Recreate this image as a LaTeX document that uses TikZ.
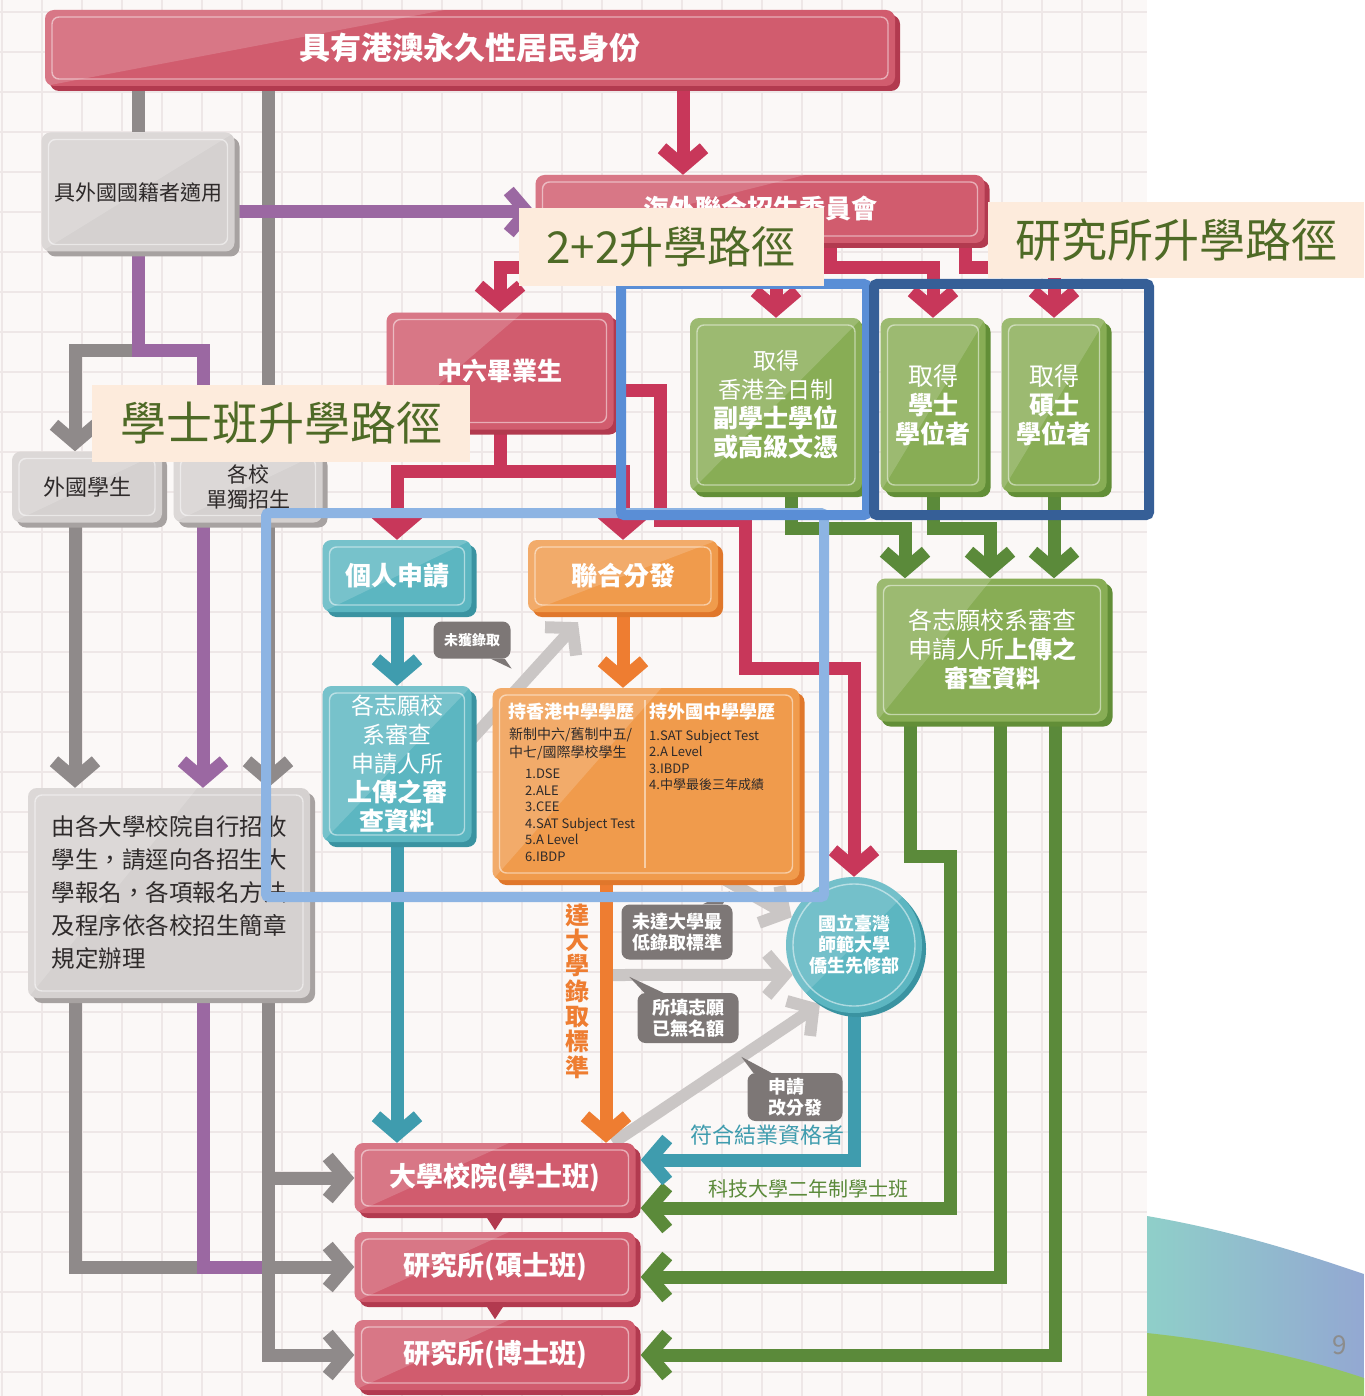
\documentclass[tikz,border=0pt]{standalone}
\usepackage{fontspec}
\setmainfont{Noto Sans CJK TC}
\usepackage{tikz}
\usetikzlibrary{calc}
\usetikzlibrary{arrows.meta}
\usetikzlibrary{shadows}
\definecolor{paper}{HTML}{FBF8F7}
\definecolor{gridc}{HTML}{EEE7E7}
\definecolor{redfill}{HTML}{D15C6E}
\definecolor{redshade}{HTML}{B23A4F}
\definecolor{grayfill}{HTML}{D5D1D0}
\definecolor{grayshade}{HTML}{A7A2A1}
\definecolor{greenfill}{HTML}{88AD55}
\definecolor{greenshade}{HTML}{628E37}
\definecolor{tealfill}{HTML}{5CB6C1}
\definecolor{tealshade}{HTML}{3A93A1}
\definecolor{orangefill}{HTML}{F09B4C}
\definecolor{orangeshade}{HTML}{E0772B}
\definecolor{textdark}{HTML}{2E2A2A}
\definecolor{callgray}{HTML}{7D7776}
\definecolor{liner}{HTML}{C8375A}
\definecolor{lineg}{HTML}{8F8A8A}
\definecolor{linep}{HTML}{9B68A2}
\definecolor{linegn}{HTML}{5B8A3A}
\definecolor{linet}{HTML}{3F9CAE}
\definecolor{lineo}{HTML}{EE7D31}
\definecolor{linelg}{HTML}{CAC6C5}
\definecolor{cream}{HTML}{FDEBDC}
\definecolor{tagtext}{HTML}{4E6A26}
\definecolor{frame22}{HTML}{5A8ED6}
\definecolor{framegrad}{HTML}{365F97}
\definecolor{framebach}{HTML}{8DB4E3}
\definecolor{swA}{HTML}{8FCFC9}
\definecolor{swB}{HTML}{93A8D2}
\definecolor{swC}{HTML}{92C465}
\pgfdeclarelayer{grid}
\pgfdeclarelayer{lines}
\pgfdeclarelayer{top}
\pgfsetlayers{grid,lines,main,top}
\newcommand{\fsz}[2]{\fontsize{#1}{#2}\selectfont}
\tikzset{
  glossbox/.style n args={4}{rectangle, rounded corners=9pt, inner sep=2pt,
    fill=#1, text=#3,
    drop shadow={shadow xshift=5pt, shadow yshift=-5pt, fill=#2, opacity=1},
    path picture={
      \fill[white, opacity=.17, sharp corners] (path picture bounding box.north west)
        -- ($(path picture bounding box.north west)!#4!(path picture bounding box.north east)$)
        -- (path picture bounding box.south west) -- cycle;
      \draw[white, opacity=.5, line width=1.4pt, rounded corners=7pt]
        ([shift={(7pt,-7pt)}]path picture bounding box.north west) rectangle
        ([shift={(-7pt,7pt)}]path picture bounding box.south east);
    }},
  redbox/.style={glossbox={redfill}{redshade}{white}{#1}}, redbox/.default=1,
  graybox/.style={glossbox={grayfill}{grayshade}{textdark}{#1}}, graybox/.default=1,
  greenbox/.style={glossbox={greenfill}{greenshade}{white}{#1}}, greenbox/.default=1,
  tealbox/.style={glossbox={tealfill}{tealshade}{white}{#1}}, tealbox/.default=1,
  orangebox/.style={glossbox={orangefill}{orangeshade}{white}{#1}}, orangebox/.default=1,
  callout/.style={fill=callgray, rounded corners=8pt, text=white, inner sep=2pt,
    align=left, font=\fsz{18}{21}\bfseries},
  tag/.style={fill=cream, text=tagtext, inner sep=0pt, font=\fsz{46}{50}},
  hiframe/.style={line width=10pt, rounded corners=3pt},
  conn/.style={line width=13pt, line join=miter},
  gline/.style={conn, draw=lineg},
  pline/.style={conn, draw=linep},
  rline/.style={conn, draw=liner},
  gnline/.style={conn, draw=linegn},
  tline/.style={conn, draw=linet},
  oline/.style={conn, draw=lineo},
  lgline/.style={conn, line width=12pt, draw=linelg},
  arr/.style={-{Straight Barb[length=18pt,width=42pt]}},
}
\begin{document}
\begin{tikzpicture}[x=1pt,y=-1pt]
\useasboundingbox (0,0) rectangle (1364,1396);
% paper, grid and the corner swoosh
\begin{pgfonlayer}{grid}
  \fill[white] (0,0) rectangle (1364,1396);
  \fill[paper] (0,0) rectangle (1147,1396);
  \foreach \gx in {2,42,...,1147} \draw[gridc, line width=1.2pt] (\gx,0) -- (\gx,1396);
  \foreach \gy in {12,52,...,1396} \draw[gridc, line width=1.2pt] (0,\gy) -- (1147,\gy);
  \shade[left color=swA, right color=swB] (1147,1216) .. controls (1240,1232) and (1310,1256) .. (1364,1274)
    -- (1364,1396) -- (1147,1396) -- cycle;
  \fill[swC] (1147,1333) .. controls (1240,1343) and (1310,1360) .. (1364,1378)
    -- (1364,1396) -- (1147,1396) -- cycle;
  \node[text=black!45, font=\fsz{26}{30}] (pagenum) at (1340,1345) {9};
\end{pgfonlayer}

% boxes
\node[redbox=0.47, minimum width=850pt, minimum height=76pt, font=\fsz{31}{36}\bfseries] (title) at (470,48) {具有港澳永久性居民身份};
\node[graybox, minimum width=193pt, minimum height=119pt, font=\fsz{21}{25}] (foreign) at (138,192) {具外國國籍者適用};
\node[redbox=0.6, minimum width=449pt, minimum height=68pt, font=\fsz{26}{30}\bfseries] (committee) at (760,209) {海外聯合招生委員會};
\node[redbox=0.6, minimum width=227pt, minimum height=117pt, font=\fsz{25}{30}\bfseries] (hs6) at (500,371) {中六畢業生};
\node[greenbox, minimum width=172pt, minimum height=174pt, align=center, font=\fsz{23}{29}] (assoc) at (776,405)
  {取得\\香港全日制\\{\bfseries\fsz{25}{29}副學士學位}\\{\bfseries\fsz{25}{29}或高級文憑}};
\node[greenbox, minimum width=105pt, minimum height=174pt, align=center, font=\fsz{25}{29}] (bach) at (933,405)
  {取得\\{\bfseries 學士}\\{\bfseries 學位者}};
\node[greenbox, minimum width=105pt, minimum height=174pt, align=center, font=\fsz{25}{29}] (mast) at (1054,405)
  {取得\\{\bfseries 碩士}\\{\bfseries 學位者}};
\node[graybox, minimum width=150pt, minimum height=71pt, font=\fsz{22}{26}] (intl) at (87,487) {外國學生};
\node[graybox, minimum width=149pt, minimum height=71pt, align=center, font=\fsz{21}{25}] (indep) at (248,487) {各校\\單獨招生};
\node[tealbox, minimum width=149pt, minimum height=72pt, font=\fsz{26}{30}\bfseries] (personal) at (397,576) {個人申請};
\node[orangebox, minimum width=190pt, minimum height=72pt, font=\fsz{26}{30}\bfseries] (joint) at (623,576) {聯合分發};
\node[tealbox, minimum width=149pt, minimum height=156pt, align=center, font=\fsz{23}{29}] (review) at (397,764)
  {各志願校\\系審查\\申請人所\\{\bfseries\fsz{25}{29}上傳之審}\\{\bfseries\fsz{25}{29}查資料}};
\node[orangebox=0.55, minimum width=307pt, minimum height=192pt] (place) at (646,784) {};
\draw[white, opacity=.5, line width=1.4pt] (645,700) -- (645,868);
\node[anchor=west, text=white, inner sep=0pt, font=\fsz{18}{20}\bfseries] (hkhead) at (508,712) {持香港中學學歷};
\node[anchor=west, text=white, inner sep=0pt, font=\fsz{18}{20}\bfseries] (fhead) at (649,712) {持外國中學學歷};
\node[anchor=north west, align=left, text=textdark, inner sep=0pt, font=\fsz{14}{18}] (hksub) at (509,727)
  {新制中六/舊制中五/\\中七/國際學校學生};
\node[anchor=north west, align=left, text=textdark, inner sep=0pt, font=\fsz{13}{16.5}] (hkitems) at (525,769)
  {1.DSE\\2.ALE\\3.CEE\\4.SAT Subject Test\\5.A Level\\6.IBDP};
\node[anchor=north west, align=left, text=textdark, inner sep=0pt, font=\fsz{13}{16.3}] (fitems) at (649,730)
  {1.SAT Subject Test\\2.A Level\\3.IBDP\\4.中學最後三年成績};
\node[greenbox=0.5, minimum width=231pt, minimum height=143pt, align=center, font=\fsz{24}{29}] (gradrev) at (992,650)
  {各志願校系審查\\申請人所{\bfseries 上傳之}\\{\bfseries 審查資料}};
\node[graybox=0.6, minimum width=282pt, minimum height=210pt, align=left, font=\fsz{23.5}{33}] (selfadm) at (169,893)
  {由各大學校院自行招收\\學生，請逕向各招生大\\學報名，各項報名方法\\及程序依各校招生簡章\\規定辦理};
\node[circle, minimum size=136pt, inner sep=0pt, fill=tealfill, text=white, align=center, font=\fsz{18}{21}\bfseries,
  drop shadow={shadow xshift=4pt, shadow yshift=-4pt, fill=tealshade, opacity=1},
  path picture={
    \fill[white, opacity=.15] (path picture bounding box.north west) -- (path picture bounding box.north east)
      -- (path picture bounding box.south west) -- cycle;
    \draw[white, opacity=.5, line width=1.4pt] (path picture bounding box.center) circle (61pt);
  }] (prep) at (854,945) {國立臺灣\\師範大學\\僑生先修部};
\node[redbox=0.55, minimum width=281pt, minimum height=70pt, font=\fsz{27}{30}\bfseries] (ug) at (495,1178) {大學校院(學士班)};
\node[redbox=0.55, minimum width=281pt, minimum height=70pt, font=\fsz{27}{30}\bfseries] (msc) at (495,1267) {研究所(碩士班)};
\node[redbox=0.55, minimum width=281pt, minimum height=70pt, font=\fsz{27}{30}\bfseries] (phd) at (495,1355) {研究所(博士班)};
\foreach \n in {ug,msc}
  \fill[redshade] ([xshift=-11pt]\n.south) -- ([xshift=11pt]\n.south) -- ([yshift=-17pt]\n.south) -- cycle;

% callouts
\node[callout, minimum width=77pt, minimum height=37pt, font=\fsz{14}{16}\bfseries] (miss) at (472,640) {未獲錄取};
\fill[callgray] ([xshift=-20pt]miss.south east) -- ([xshift=-6pt]miss.south east) -- ([shift={(1pt,-10pt)}]miss.south east) -- cycle;
\node[callout, minimum width=111pt, minimum height=55pt] (low) at (677,932) {未達大學最\\低錄取標準};
\fill[callgray] ([xshift=-30pt]low.north east) -- ([xshift=-10pt]low.north east) -- ([shift={(-3pt,13pt)}]low.north east) -- cycle;
\node[callout, minimum width=101pt, minimum height=50pt] (full) at (688,1018) {所填志願\\已無名額};
\fill[callgray] ([xshift=7pt]full.north west) -- ([xshift=26pt]full.north west) -- ([shift={(-8pt,16pt)}]full.north west) -- cycle;
\node[callout, minimum width=95pt, minimum height=48pt] (redist) at (795,1097) {申請\\改分發};
\fill[callgray] ([xshift=6pt]redist.north west) -- ([xshift=24pt]redist.north west) -- ([shift={(-6pt,16pt)}]redist.north west) -- cycle;

% free labels
\node[text=linet, font=\fsz{22}{26}] (eligible) at (767,1135) {符合結業資格者};
\node[text=linegn, font=\fsz{20}{24}] (techu) at (808,1189) {科技大學二年制學士班};
\node[text=lineo, align=center, font=\fsz{24}{25.3}\bfseries] (reach) at (577,991) {達\\大\\學\\錄\\取\\標\\準};

% named points on the connectors
\coordinate (fsplit) at (138,350);
\coordinate (fright) at ([yshift=-20pt]foreign.east);
\coordinate (intlin) at ([xshift=-12pt]intl.north);
\coordinate (intlout) at ([xshift=-12pt]intl.south);
\coordinate (indepin) at ([xshift=-45pt]indep.north);
\coordinate (indepout) at ([xshift=-45pt]indep.south);
\coordinate (indepg) at ([xshift=20pt]indep.north);
\coordinate (indepgo) at ([xshift=20pt]indep.south);
\coordinate (comin) at ([xshift=-77pt]committee.north);
\coordinate (comhs) at ([xshift=-200pt]committee.south);
\coordinate (csplit) at (560,268);
\coordinate (comg1) at ([xshift=70pt]committee.south);
\coordinate (comg2) at ([xshift=205pt]committee.south);
\coordinate (rbar) at (0,268);
\coordinate (hbar) at (0,471);
\coordinate (hsr) at ([yshift=-19pt]hs6.east);
\coordinate (rw1) at (660,520);
\coordinate (rw2) at (745,668);
\coordinate (gbar2) at (0,528);
\coordinate (assocout) at ([xshift=15pt]assoc.south);
\coordinate (gin1) at ([xshift=-87pt]gradrev.north);
\coordinate (gin2) at ([xshift=-2pt]gradrev.north);
\coordinate (gout1) at ([xshift=-82pt]gradrev.south);
\coordinate (gj) at (950,856);
\coordinate (gout2) at ([xshift=8pt]gradrev.south);
\coordinate (gout3) at ([xshift=63pt]gradrev.south);
\coordinate (ugg) at ([shift={(5pt,-30pt)}]ug.east);
\coordinate (ugt) at ([shift={(5pt,18pt)}]ug.east);
\coordinate (mscg) at ([shift={(5pt,-10pt)}]msc.east);
\coordinate (phdg) at ([xshift=5pt]phd.east);
\coordinate (selfg) at ([xshift=-94pt]selfadm.south);
\coordinate (selfp) at ([xshift=34pt]selfadm.south);
\coordinate (selft) at ([xshift=99pt]selfadm.south);
\coordinate (revout) at ([yshift=25pt]review.east);
\coordinate (jointin) at ([shift={(-45pt,-10pt)}]joint.south);
\coordinate (placeout) at ([xshift=80pt]place.south);
\coordinate (placeo) at ([xshift=-40pt]place.south);
\coordinate (ofork) at (606,975);
\coordinate (ugtop) at ([xshift=118pt]ug.north);

% connectors
\begin{pgfonlayer}{lines}
  % grey and purple
  \draw[gline] (foreign.north |- title.south) -- (foreign.north);
  \draw[gline] (indepg |- title.south) -- (indepg);
  \draw[pline, arr] (fright) -- (fright -| committee.west);
  \draw[gline, arr] (fsplit) -| (intlin);
  \draw[pline] (foreign.south) -- (fsplit) -| (indepin);
  \draw[gline, arr] (intlout) -- (intlout |- selfadm.north);
  \draw[pline, arr] (indepout) -- (indepout |- selfadm.north);
  \draw[gline, arr] (indepgo) -- (indepgo |- selfadm.north);
  \draw[gline] (selfg) |- (selft |- msc.west);
  \draw[pline] (selfp) |- (selft |- msc.west);
  \draw[gline, arr] (selft) |- (ug.west);
  \draw[gline, arr] (selft) |- (msc.west);
  \draw[gline, arr] (selft) |- (phd.west);
  % red
  \draw[rline, arr] (comin |- title.south) -- (comin);
  \draw[rline, arr] (comhs) -- (csplit) -| (hs6.north);
  \draw[rline, arr] (comg1) |- (rbar -| assoc.north) -- (assoc.north);
  \draw[rline, arr] (comg1) |- (rbar -| bach.north) -- (bach.north);
  \draw[rline, arr] (comg2) |- (rbar -| mast.north) -- (mast.north);
  \draw[rline, arr] (hs6.south) |- (hbar -| personal.north) -- (personal.north);
  \draw[rline, arr] (hs6.south) |- (hbar -| joint.north) -- (joint.north);
  \draw[rline, arr] (hsr) -| (rw1) -| (rw2) -| (prep.north);
  % green
  \draw[gnline, arr] (assocout) |- (gbar2 -| gin1) -- (gin1);
  \draw[gnline, arr] (bach.south) |- (gbar2 -| gin2) -- (gin2);
  \draw[gnline, arr] (mast.south) -- (mast.south |- gradrev.north);
  \draw[gnline, arr] (gout1) |- (gj) |- (ugg);
  \draw[gnline, arr] (gout2) |- (mscg);
  \draw[gnline, arr] (gout3) |- (phdg);
  % light grey
  \draw[lgline, arr] (revout) -- (jointin);
  \draw[lgline, arr] (placeout) -- (prep.156);
  \draw[lgline, arr] (ofork) -- (prep.206);
  \draw[lgline, arr] (ugtop) -- (prep.240);
  % teal and orange
  \draw[tline, arr] (personal.south) -- (review.north);
  \draw[tline, arr] (review.south) -- (review.south |- ug.north);
  \draw[tline, arr] (prep.south) |- (ugt);
  \draw[oline, arr] (joint.south) -- (joint.south |- place.north);
  \draw[oline, arr] (placeo) -- (placeo |- ug.north);
\end{pgfonlayer}

% highlight frames and path tags
\begin{pgfonlayer}{top}
  \draw[hiframe, draw=framebach] (266,513) rectangle (824,897);
  \draw[hiframe, draw=frame22] (621,284) rectangle (867,515);
  \draw[hiframe, draw=framegrad] (874,284) rectangle (1149,515);
  \node[tag, minimum width=305pt, minimum height=78pt, font=\fsz{44}{50}] (tag22) at (671,247) {2+2升學路徑};
  \node[tag, minimum width=376pt, minimum height=76pt] (taggrad) at (1176,240) {研究所升學路徑};
  \node[tag, minimum width=378pt, minimum height=77pt] (tagbach) at (281,423) {學士班升學路徑};
\end{pgfonlayer}
\end{tikzpicture}
\end{document}
